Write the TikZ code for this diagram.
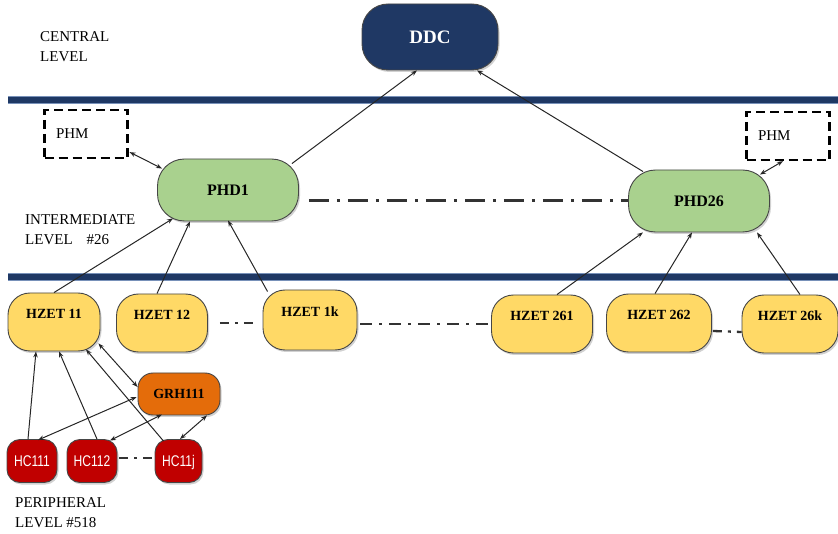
\documentclass[tikz,border=0pt]{standalone}
\usepackage{fontspec}
\setmainfont{Liberation Serif}
\newfontfamily\hcfont[FakeStretch=0.78]{Liberation Sans}
\usetikzlibrary{arrows.meta,calc,shadows}

\definecolor{navy}{RGB}{31,56,100}
\definecolor{bandedge}{RGB}{120,145,185}
\definecolor{phdgreen}{RGB}{169,209,142}
\definecolor{hzyellow}{RGB}{255,217,102}
\definecolor{grhorange}{RGB}{228,108,10}
\definecolor{hcred}{RGB}{192,0,0}
\definecolor{edgegray}{RGB}{70,70,70}

\begin{document}
\begin{tikzpicture}[x=1pt,y=-1pt,
  box/.style={draw=edgegray, line width=0.9pt, inner sep=0pt, text depth=0pt},
  softshadow/.style={drop shadow={shadow xshift=1.5pt, shadow yshift=-2pt, opacity=0.3, fill=black!60}},
  ddcbox/.style={box, softshadow, fill=navy, text=white, font=\bfseries\fontsize{19}{19}\selectfont,
    text height=12.5pt, minimum width=136pt, minimum height=66pt, rounded corners=26pt},
  phdbox/.style={box, softshadow, fill=phdgreen, font=\bfseries\fontsize{16}{16}\selectfont,
    text height=10.6pt, minimum width=141pt, minimum height=62pt, rounded corners=27pt},
  hzbox/.style={box, softshadow, fill=hzyellow, font=\bfseries\fontsize{14}{14}\selectfont,
    text height=9.3pt, text depth=16pt, minimum height=58pt, rounded corners=22pt},
  grhbox/.style={box, softshadow, fill=grhorange, font=\bfseries\fontsize{14}{14}\selectfont,
    text height=9.3pt, minimum width=82pt, minimum height=42pt, rounded corners=15pt},
  hcbox/.style={box, softshadow, fill=hcred, text=white, font=\hcfont\fontsize{15.5}{15.5}\selectfont,
    text height=11pt, minimum height=43pt, rounded corners=13pt},
  phmbox/.style={draw=black, line width=2.2pt, dash pattern=on 9pt off 5pt, inner sep=0pt,
    font=\fontsize{15}{15}\selectfont, text height=9.9pt, text depth=0pt,
    text width=60pt, align=left, minimum width=83pt, minimum height=48pt},
  lvl/.style={font=\fontsize{15}{20}\selectfont, align=left, inner sep=0pt, anchor=north west},
  tip/.tip={Stealth[length=6pt,width=4.5pt]},
  arr/.style={draw=black!85, line width=1pt, -tip},
  barr/.style={draw=black!85, line width=1pt, tip-tip},
  ddbig/.style={draw=black!80, line width=3pt, dash pattern=on 20pt off 8pt on 3pt off 8pt},
  ddsmall/.style={draw=black!80, line width=2.3pt, dash pattern=on 12pt off 7pt on 3pt off 7pt},
  ddshort/.style={draw=black!80, line width=2.3pt, dash pattern=on 9pt off 6pt on 3pt off 6pt},
  band/.style={line width=8.5pt, draw=bandedge},
  bandcore/.style={line width=6pt, draw=navy}
]
\useasboundingbox (0,0) rectangle (838,534);

% level separators
\coordinate (b1l) at (8,100);  \coordinate (b1r) at (838,100);
\coordinate (b2l) at (8,277);  \coordinate (b2r) at (838,277);
\draw[band] (b1l) -- (b1r);
\draw[bandcore] (b1l) -- (b1r);
\draw[band] (b2l) -- (b2r);
\draw[bandcore] (b2l) -- (b2r);

% level captions
\node[lvl] (capC) at (40,31) {CENTRAL\\LEVEL};
\node[lvl] (capI) at (25,214) {INTERMEDIATE\\LEVEL\hspace{14pt}\#26};
\node[lvl] (capP) at (15,497) {PERIPHERAL\\LEVEL \#518};

% central level
\node[ddcbox] (DDC) at (430,37) {DDC};

% intermediate level
\node[phdbox] (PHD1) at (228,190) {PHD1};
\node[phdbox] (PHD26) at (699,201) {PHD26};
\node[phmbox] (PHMa) at (86,134) {PHM};
\node[phmbox] (PHMb) at (788,136) {PHM};

% zone level
\node[hzbox, minimum width=92pt]  (HZ11)  at (54,322)  {HZET 11};
\node[hzbox, minimum width=91pt]  (HZ12)  at (162,323) {HZET 12};
\node[hzbox, minimum width=94pt, minimum height=60pt] (HZ1k) at (310,320) {HZET 1k};
\node[hzbox, minimum width=101pt] (HZ261) at (542,324) {HZET 261};
\node[hzbox, minimum width=105pt] (HZ262) at (659,323) {HZET 262};
\node[hzbox, minimum width=96pt]  (HZ26k) at (790,324) {HZET 26k};

% peripheral level
\node[grhbox] (GRH) at (179,394) {GRH111};
\node[hcbox, minimum width=50pt] (HC111) at (32,461) {HC111};
\node[hcbox, minimum width=50pt] (HC112) at (92,461) {HC112};
\node[hcbox, minimum width=47pt] (HC11j) at (178.5,461) {HC11j};

% links to the central level
\draw[arr] ($(PHD1.north east)+(-7,5)$) -- ($(DDC.south)+(-13,0)$);
\draw[arr] ($(PHD26.north west)+(15,2)$) -- ($(DDC.south)+(47,0)$);

% monitoring links
\draw[barr] ($(PHMa.south east)+(1,-7)$) -- ($(PHD1.north west)+(5,10)$);
\draw[barr] ($(PHD26.north east)+(-10,5)$) -- ($(PHMb.south)+(-5,0)$);

% zone to intermediate links
\draw[arr] (HZ11.north) -- ($(PHD1.south)+(-55,-3)$);
\draw[arr] ($(HZ12.north)+(-5,0)$) -- ($(PHD1.south)+(-38,0)$);
\draw[arr] ($(HZ1k.north west)+(5,2)$) -- ($(PHD1.south)+(0,-1)$);
\draw[arr] ($(HZ261.north)+(15,0)$) -- ($(PHD26.south)+(-56,0)$);
\draw[arr] ($(HZ262.north)+(-4,0)$) -- ($(PHD26.south)+(-7,0)$);
\draw[arr] ($(HZ26k.north)+(10,0)$) -- ($(PHD26.south)+(58,0)$);

% peripheral links
\draw[arr] ($(HC111.north)+(-4,0)$) -- ($(HZ11.south)+(-18,0)$);
\draw[arr] ($(HC112.north)+(5,0)$) -- ($(HZ11.south)+(5,0)$);
\draw[arr] ($(HC11j.north)+(-15,2)$) -- ($(HZ11.south)+(32,-2)$);
\draw[barr] ($(HZ11.south east)+(-2,-8)$) -- ($(GRH.west)+(0,-7)$);
\draw[barr] ($(GRH.west)+(-1,3)$) -- ($(HC111.north)+(6,1)$);
\draw[barr] ($(GRH.south)+(-17,-1)$) -- ($(HC112.north)+(18,1.5)$);
\draw[barr] ($(GRH.south)+(28,0)$) -- ($(HC11j.north)+(1.5,0)$);

% continuation marks
\draw[ddbig, shorten <=10pt] (PHD1.east |- PHD26.west) -- (PHD26.west);
\draw[ddshort, shorten <=12pt, shorten >=8pt] (HZ12.east) -- (HZ1k.west |- HZ12.east);
\draw[ddsmall, shorten <=3pt] (HZ1k.east |- HZ261.west) -- (HZ261.west);
\draw[ddshort] ($(HZ262.east)+(1,8)$) -- ($(HZ26k.west)+(0,8)$);
\draw[ddshort] ($(HC112.east)+(2,-3)$) -- ($(HC11j.west)+(-2,-3)$);
\end{tikzpicture}
\end{document}
